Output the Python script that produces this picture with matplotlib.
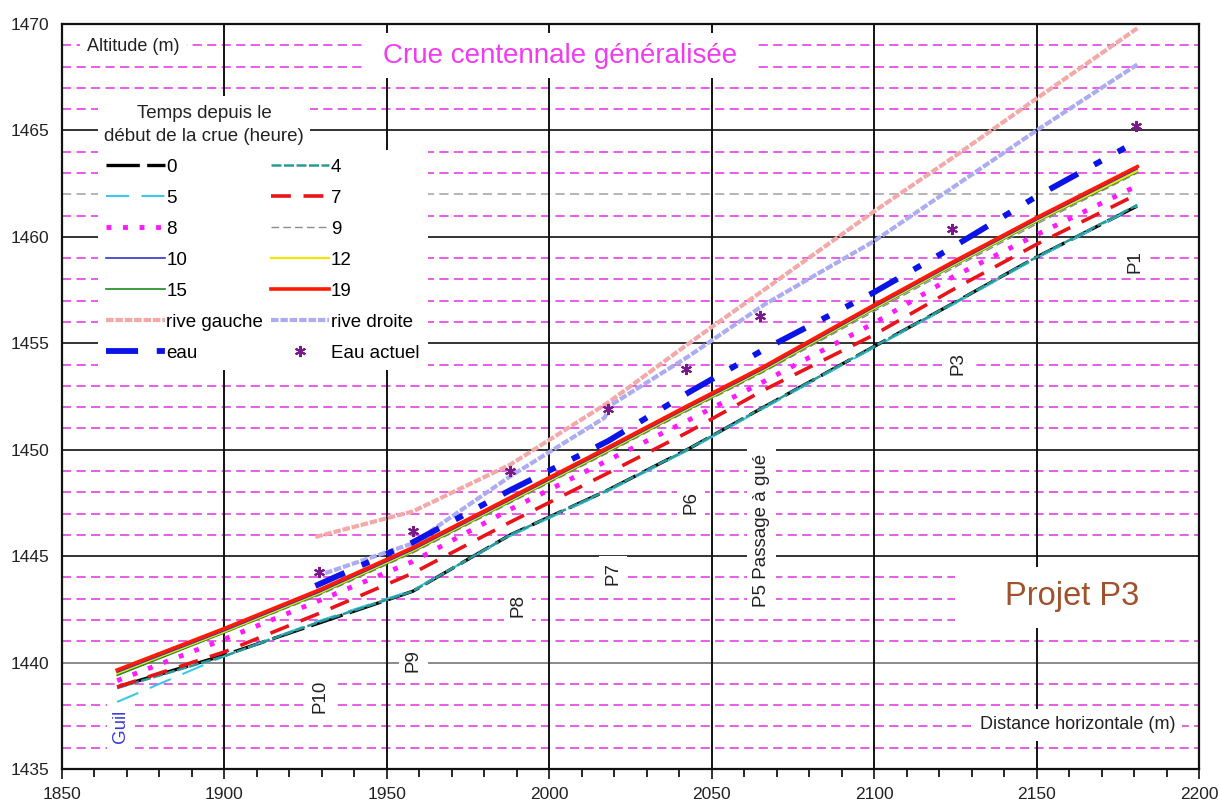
import matplotlib.pyplot as plt
from matplotlib.patches import Rectangle
from matplotlib.ticker import MultipleLocator

plt.rcParams['font.family'] = ['Liberation Sans', 'DejaVu Sans']

# profile sections (horizontal distance, m)
dist = [1867, 1900, 1929, 1958, 1988, 2018, 2043, 2066, 2100, 2124, 2150, 2181]

# water line (m) at each hour since the start of the flood
z_h0 = [1438.85, 1440.35, 1441.85, 1443.35, 1446.0, 1448.1, 1450.05, 1452.0, 1454.85, 1456.85, 1459.05, 1461.45]
z_h4 = [1438.8, 1440.3, 1441.9, 1443.35, 1446.0, 1448.1, 1450.05, 1452.0, 1454.85, 1456.85, 1459.05, 1461.5]
z_h5 = [1438.15, 1440.3, 1441.95, 1443.4, 1445.95, 1448.05, 1450.0, 1451.95, 1454.8, 1456.8, 1459.0, 1461.45]
z_h7 = [1438.85, 1440.5, 1442.3, 1444.2, 1446.6, 1448.9, 1450.85, 1452.8, 1455.4, 1457.5, 1459.65, 1462.0]
z_h8 = [1439.15, 1441.1, 1442.9, 1444.75, 1447.2, 1449.5, 1451.4, 1453.2, 1455.95, 1458.1, 1460.1, 1462.4]
z_h9 = [1439.45, 1441.4, 1443.15, 1445.15, 1447.5, 1449.85, 1451.85, 1453.65, 1456.5, 1458.5, 1460.6, 1463.0]
z_h10 = [1439.55, 1441.5, 1443.3, 1445.3, 1447.65, 1450.0, 1452.0, 1453.8, 1456.7, 1458.7, 1460.8, 1463.2]
z_h12 = [1439.5, 1441.45, 1443.25, 1445.25, 1447.6, 1449.95, 1451.95, 1453.75, 1456.65, 1458.65, 1460.75, 1463.1]
z_h15 = [1439.4, 1441.4, 1443.2, 1445.2, 1447.55, 1449.9, 1451.9, 1453.7, 1456.6, 1458.6, 1460.7, 1463.05]
z_h19 = [1439.65, 1441.6, 1443.4, 1445.4, 1447.75, 1450.1, 1452.1, 1453.9, 1456.8, 1458.8, 1460.9, 1463.3]

# banks
dist_rg = [1928, 1958, 1988, 2018, 2043, 2066, 2100, 2124, 2150, 2181]
z_rg = [1445.9, 1447.1, 1449.3, 1452.2, 1455.0, 1457.5, 1461.2, 1463.7, 1466.5, 1469.8]
dist_rd = [1931, 1958, 1988, 2017, 2019, 2043, 2066, 2100, 2124, 2150, 2181]
z_rd = [1444.2, 1445.6, 1448.75, 1451.5, 1452.1, 1454.4, 1456.8, 1459.8, 1462.3, 1465.0, 1468.1]

# project water line and present water level
dist_eau = [1928, 1958, 1988, 2018, 2043, 2066, 2100, 2124, 2150, 2181]
z_eau = [1443.6, 1445.65, 1448.1, 1450.4, 1452.7, 1454.7, 1457.4, 1459.5, 1461.9, 1464.5]
dist_obs = [1929, 1958, 1988, 2018, 2042, 2065, 2124, 2180.5]
z_obs = [1444.25, 1446.2, 1449.0, 1451.9, 1453.8, 1456.3, 1460.35, 1465.2]

# section names
sec_names = ['P10', 'P9', 'P8', 'P7', 'P6', 'P5 Passage à gué', 'P3', 'P1']
sec_x = [1929.5, 1958.2, 1990.4, 2019.6, 2043.7, 2065.3, 2125.8, 2180.2]
sec_y = [1438.4, 1440.1, 1442.7, 1444.2, 1447.5, 1446.2, 1454.05, 1458.85]

fig = plt.figure(figsize=(12.2, 8.01), dpi=100)
ax = fig.add_axes([0.0508, 0.040, 0.932, 0.930])
ax.set_xlim(1850, 2200)
ax.set_ylim(1435, 1470)

# grid
for v in range(1436, 1470):
    if v % 5 == 0:
        c = '#8a8a8a' if v == 1440 else '#333333'
        ax.axhline(v, color=c, lw=1.4, zorder=1)
    elif v == 1462:
        ax.axhline(v, color='#a0a0a0', lw=1.1, dashes=(6, 3.5), zorder=1)
    else:
        ax.axhline(v, color='#e030e0', lw=1.1, dashes=(6, 3.5), zorder=1)
for v in range(1900, 2200, 50):
    ax.axvline(v, color='#111111', lw=1.4, zorder=1)

# banks
l_rg, = ax.plot(dist_rg, z_rg, color='#f4a8a8', lw=3.0, dashes=(1.8, 0.45), zorder=3, label='rive gauche')
l_rd, = ax.plot(dist_rd, z_rd, color='#acacf2', lw=3.0, dashes=(1.8, 0.45), zorder=3, label='rive droite')

# flood lines
l0, = ax.plot(dist, z_h0, color='black', lw=2.4, dashes=(10, 2.2), zorder=4, label='0')
l5, = ax.plot(dist, z_h5, color='#3cc8ea', lw=1.5, dashes=(11, 6), zorder=4, label='5')
l4, = ax.plot(dist, z_h4, color='#2a9a96', lw=1.8, dashes=(4, 1), zorder=4, label='4')
l7, = ax.plot(dist, z_h7, color='#e8141a', lw=2.6, dashes=(5.5, 3.5), zorder=4, label='7')
l8, = ax.plot(dist, z_h8, color='#ff1aff', lw=3.5, dashes=(1, 2.4), zorder=4, label='8')
l9, = ax.plot(dist, z_h9, color='#8c8c8c', lw=1.0, dashes=(5.5, 3), zorder=4, label='9')
l15, = ax.plot(dist, z_h15, color='#1f8a1f', lw=1.2, zorder=4, label='15')
l12, = ax.plot(dist, z_h12, color='#f2e600', lw=1.6, zorder=4, label='12')
l10, = ax.plot(dist, z_h10, color='#3333cc', lw=1.2, zorder=4, label='10')
l19, = ax.plot(dist, z_h19, color='#ff1a00', lw=2.6, zorder=4, label='19')

l_eau, = ax.plot(dist_eau, z_eau, color='#0a14e6', lw=4.2,
                 dashes=(5.5, 3.2, 1.4, 3.2, 1.4, 3.2), zorder=5, label='eau')
l_obs, = ax.plot(dist_obs, z_obs, ls='none', marker=(6, 2, 0), ms=8,
                 mec='#7a1a8a', mew=1.5, zorder=6, label='Eau actuel')

# labels with white background
box = dict(boxstyle='square,pad=0.3', fc='white', ec='none')
for name, x, y in zip(sec_names, sec_x, sec_y):
    ax.text(x, y, name, rotation=90, ha='center', va='center', fontsize=13.5,
            color='#222222', bbox=box, zorder=2)

ax.text(1868.1, 1437.0, 'Guil', rotation=90, ha='center', va='center',
        fontsize=13.5, color='#3c3cdc', bbox=box, zorder=2)
ax.text(1857.7, 1468.95, 'Altitude (m)', ha='left', va='center', fontsize=13,
        color='#222222', bbox=dict(boxstyle='square,pad=0.4', fc='white', ec='none'), zorder=2)
ax.text(2132.5, 1437.07, 'Distance horizontale (m)', ha='left', va='center',
        fontsize=13, color='#222222',
        bbox=dict(boxstyle='square,pad=0.4', fc='white', ec='none'), zorder=2)

ax.add_patch(Rectangle((1942.6, 1467.45), 120.6, 2.15, fc='white', ec='none', zorder=2))
ax.text(2003.2, 1468.5, 'Crue centennale généralisée', ha='center', va='center',
        fontsize=20, color='#f03cf0', zorder=2.5)

ax.add_patch(Rectangle((2124.8, 1441.6), 75.2, 2.9, fc='white', ec='none', zorder=2))
ax.text(2160.8, 1443.1, 'Projet P3', ha='center', va='center',
        fontsize=23.5, color='#a0522d', zorder=2.5)

ax.add_patch(Rectangle((1861.1, 1464.1), 65.2, 2.5, fc='white', ec='none', zorder=2))
ax.text(1893.7, 1465.25, 'Temps depuis le\ndébut de la crue (heure)', ha='center',
        va='center', fontsize=13.5, linespacing=1.5, color='#222222', zorder=2.5)

handles = [l0, l5, l8, l10, l15, l_rg, l_eau, l4, l7, l9, l12, l19, l_rd, l_obs]
leg = ax.legend(handles=handles, labels=[h.get_label() for h in handles], ncol=2,
                loc='upper left', bbox_to_anchor=(98 / 1220, 1 - 150 / 801),
                bbox_transform=fig.transFigure, fontsize=13.5, frameon=True,
                fancybox=False, framealpha=1, facecolor='white', edgecolor='none',
                borderpad=0.45, borderaxespad=0, handlelength=3.1, handletextpad=0.1,
                columnspacing=0.4, labelspacing=0.74)

# axes and ticks
for s in ax.spines.values():
    s.set_linewidth(1.6)
    s.set_color('#111111')
ax.xaxis.set_major_locator(MultipleLocator(50))
ax.xaxis.set_minor_locator(MultipleLocator(10))
ax.yaxis.set_major_locator(MultipleLocator(5))
ax.tick_params(axis='x', which='major', direction='out', length=7, width=1.3,
               labelsize=12.5, pad=6, colors='#222222')
ax.tick_params(axis='x', which='minor', direction='out', length=6, width=1.2)
ax.tick_params(axis='y', which='both', length=0, labelsize=12.5, pad=9, colors='#222222')

fig.savefig('out.png', dpi=100)
